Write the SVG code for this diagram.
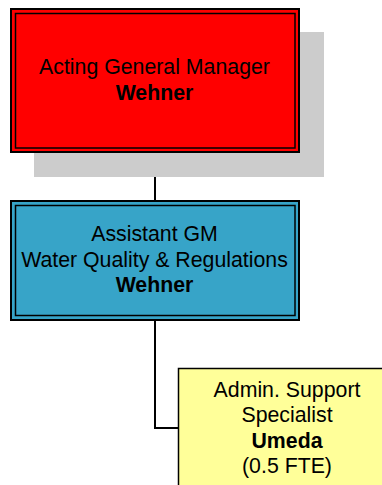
<svg xmlns="http://www.w3.org/2000/svg" width="382" height="485" viewBox="0 0 382 485">
  <style>
    .outer { stroke: #000; stroke-width: 2; }
    .inner { fill: none; stroke: #000; stroke-width: 1.5; }
    .lbl { font-family: "Liberation Sans", Arial, sans-serif; font-size: 21.3px; fill: #000; text-anchor: middle; }
    .b { font-weight: bold; }
    .wire { fill: none; stroke: #000; stroke-width: 2; }
  </style>
  <rect width="382" height="485" fill="#fff"/>

  <!-- connectors -->
  <g id="connectors">
    <line class="wire" x1="155" y1="150" x2="155" y2="202"/>
    <polyline class="wire" points="155,318 155,428 179,428"/>
  </g>

  <!-- general manager -->
  <g id="gm">
    <rect x="34" y="32" width="290" height="145" fill="#CCCCCC"/>
    <rect class="outer" x="11" y="9" width="288" height="143" fill="#FF0000"/>
    <rect class="inner" x="15.5" y="13.5" width="279.5" height="134.5"/>
    <text class="lbl" x="154.5" y="74">Acting General Manager</text>
    <text class="lbl b" x="154.5" y="100">Wehner</text>
  </g>

  <!-- assistant general manager -->
  <g id="agm">
    <rect class="outer" x="11" y="201" width="288" height="119" fill="#37A4C8"/>
    <rect class="inner" x="15.5" y="205.5" width="279.5" height="110"/>
    <text class="lbl" x="154.5" y="241">Assistant GM</text>
    <text class="lbl" x="154.5" y="267">Water Quality &amp; Regulations</text>
    <text class="lbl b" x="154.5" y="292">Wehner</text>
  </g>

  <!-- admin support -->
  <g id="admin">
    <rect x="178.5" y="368.5" width="220" height="130" fill="#FFFF99" stroke="#000" stroke-width="1.5"/>
    <text class="lbl" x="287" y="397">Admin. Support</text>
    <text class="lbl" x="287" y="422">Specialist</text>
    <text class="lbl b" x="287" y="448">Umeda</text>
    <text class="lbl" x="287" y="473">(0.5 FTE)</text>
  </g>
</svg>
